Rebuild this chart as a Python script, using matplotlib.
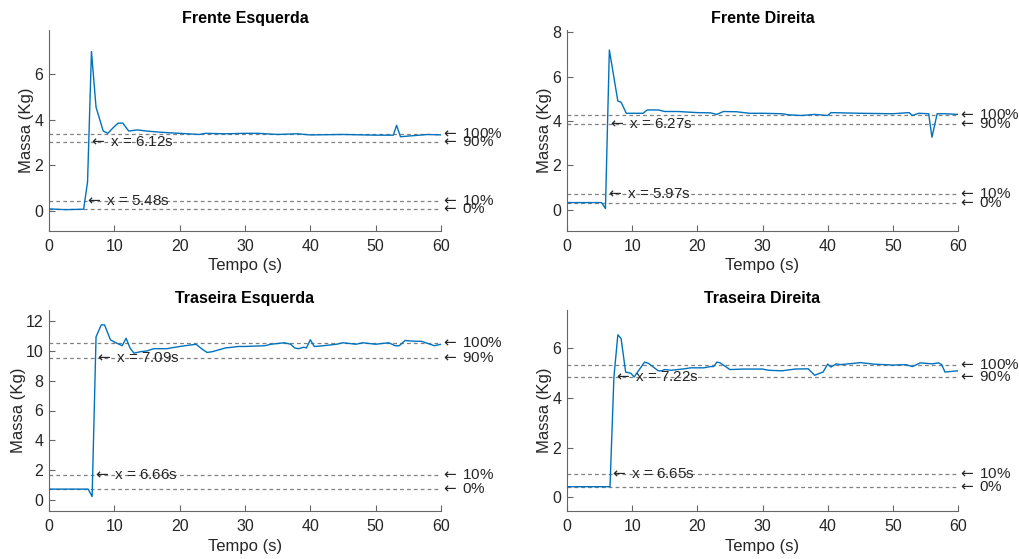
import matplotlib
matplotlib.use("Agg")
import matplotlib.pyplot as plt

plt.rcParams['font.family'] = ['Liberation Sans', 'DejaVu Sans']
plt.rcParams['mathtext.fontset'] = 'dejavusans'

titles = ["Frente Esquerda", "Frente Direita", "Traseira Esquerda", "Traseira Direita"]

# Frente Esquerda
t_fe = [0, 1, 2.5, 4, 5.3, 5.9, 6.5, 7.2, 8.3, 9.0, 10.0, 10.6, 11.3, 12.2, 13.5, 15, 17, 20, 23, 24,
        27, 30, 32, 35, 38, 40, 45, 50, 52.7, 53.2, 53.8, 55, 58, 60]
m_fe = [0.07, 0.06, 0.04, 0.05, 0.06, 1.26, 7.0, 4.55, 3.5, 3.4, 3.7, 3.85, 3.85, 3.5, 3.55, 3.5, 3.45, 3.4,
        3.35, 3.4, 3.38, 3.4, 3.4, 3.35, 3.38, 3.33, 3.35, 3.32, 3.32, 3.75, 3.25, 3.28, 3.35, 3.33]

# Frente Direita
t_fd = [0, 2, 4, 5.3, 5.9, 6.5, 7.8, 8.3, 9.1, 10, 11.7, 12.3, 14, 15, 17, 20, 22, 23, 24, 26, 28, 30,
        33, 34, 36, 38, 40, 40.5, 45, 50, 52.5, 53, 54, 55.5, 56.0, 56.8, 58, 60]
m_fd = [0.33, 0.33, 0.33, 0.33, 0.06, 7.2, 4.9, 4.85, 4.35, 4.35, 4.35, 4.5, 4.5, 4.43, 4.43, 4.38, 4.37,
        4.3, 4.43, 4.42, 4.35, 4.35, 4.33, 4.28, 4.25, 4.3, 4.25, 4.38, 4.35, 4.33, 4.38, 4.25, 4.35, 4.33,
        3.27, 4.33, 4.33, 4.3]

# Traseira Esquerda
t_te = [0, 2, 4, 6.0, 6.6, 7.2, 8.0, 8.5, 9.4, 10, 11.2, 11.8, 12.4, 13, 14, 15, 16, 18, 20, 22.5, 23.5,
        24.2, 25, 27, 29, 30, 33, 34, 36, 37, 37.6, 38.2, 39, 39.4, 40, 40.6, 42, 44, 45, 47, 48, 50, 52,
        53, 53.6, 54.5, 56, 57, 59, 60]
m_te = [0.72, 0.72, 0.72, 0.72, 0.22, 10.95, 11.75, 11.75, 10.75, 10.6, 10.35, 10.85, 10.2, 9.85, 9.95,
        10.0, 10.15, 10.15, 10.3, 10.45, 10.1, 9.9, 9.95, 10.2, 10.3, 10.3, 10.35, 10.45, 10.55, 10.45, 10.2,
        10.15, 10.25, 10.2, 10.75, 10.3, 10.35, 10.45, 10.55, 10.45, 10.55, 10.45, 10.55, 10.35, 10.35,
        10.7, 10.65, 10.65, 10.35, 10.45]

# Traseira Direita
t_td = [0, 2, 4, 6.6, 7.2, 7.8, 8.3, 9.0, 9.8, 10.3, 11.9, 12.5, 14, 14.5, 15, 16, 18, 19, 21, 22, 22.5,
        23, 23.5, 25, 27, 30, 31, 33, 35, 37, 38, 39.3, 40, 40.5, 41.3, 42, 44, 45, 47, 50, 52, 53, 54.2,
        56, 57, 57.5, 58, 60]
m_td = [0.43, 0.43, 0.43, 0.43, 4.85, 6.55, 6.4, 5.05, 5.0, 4.85, 5.45, 5.4, 5.1, 5.1, 5.15, 5.12, 5.18,
        5.22, 5.22, 5.27, 5.27, 5.45, 5.42, 5.15, 5.17, 5.17, 5.12, 5.1, 5.17, 5.18, 4.92, 5.05, 5.37, 5.25,
        5.38, 5.35, 5.4, 5.43, 5.37, 5.33, 5.35, 5.27, 5.42, 5.38, 5.42, 5.35, 5.05, 5.1]

# reference levels (0%, 10%, 90%, 100%)
levels_fe = [0.09, 0.42, 3.04, 3.35]
levels_fd = [0.33, 0.70, 3.88, 4.27]
levels_te = [0.72, 1.70, 9.53, 10.54]
levels_td = [0.43, 0.93, 4.83, 5.33]
level_labels = ["0%", "10%", "90%", "100%"]

# crossing times (10%, 90%)
cross_fe = [5.48, 6.12]
cross_fd = [5.97, 6.27]
cross_te = [6.66, 7.09]
cross_td = [6.65, 7.22]

ylims = [(-0.9, 7.95), (-0.95, 8.1), (-0.75, 12.75), (-0.55, 7.55)]
yticks = [[0, 2, 4, 6], [0, 2, 4, 6, 8], [0, 2, 4, 6, 8, 10, 12], [0, 2, 4, 6]]

series = [(t_fe, m_fe, levels_fe, cross_fe), (t_fd, m_fd, levels_fd, cross_fd),
          (t_te, m_te, levels_te, cross_te), (t_td, m_td, levels_td, cross_td)]

fig = plt.figure(figsize=(10.2, 5.59), dpi=100)
W, H = 1020, 559
positions = [(49, 30, 441, 231), (567, 30, 958, 231), (49, 310, 441, 511), (567, 310, 958, 511)]

axis_col = '#666666'
text_col = '#262626'
arrow = r'$\leftarrow\,$'

for i, (t, m, lv, cr) in enumerate(series):
    x0, y0, x1, y1 = positions[i]
    ax = fig.add_axes([x0 / W, 1 - y1 / H, (x1 - x0) / W, (y1 - y0) / H])
    ax.plot(t, m, color='#0072BD', lw=1.0, zorder=3)
    for v, lab in zip(lv, level_labels):
        ax.plot([0, 60], [v, v], color='#808080', lw=0.9, ls=(0, (3, 2.5)), zorder=2)
        ax.text(60, v, arrow + lab, ha='left', va='center', fontsize=11,
                color=text_col, zorder=4, clip_on=False)
    for c, v in zip(cr, [lv[1], lv[2]]):
        ax.text(c, v, arrow + 'x = %.2fs' % c, ha='left', va='center', fontsize=11,
                color=text_col, zorder=4)
    ax.set_xlim(0, 60)
    ax.set_ylim(*ylims[i])
    ax.set_xticks([0, 10, 20, 30, 40, 50, 60])
    ax.set_yticks(yticks[i])
    ax.set_title(titles[i], fontsize=11.5, fontweight='bold', color='black', pad=5)
    ax.set_xlabel('Tempo (s)', fontsize=12, color=text_col, labelpad=3)
    ax.set_ylabel('Massa (Kg)', fontsize=12, color=text_col, labelpad=0)
    for s in ['top', 'right']:
        ax.spines[s].set_visible(False)
    for s in ['left', 'bottom']:
        ax.spines[s].set_color(axis_col)
        ax.spines[s].set_linewidth(0.8)
    ax.tick_params(direction='in', length=4, width=0.8, color=axis_col,
                   labelsize=11.5, labelcolor=text_col)
    ax.tick_params(axis='x', pad=6)
    ax.tick_params(axis='y', pad=4)

fig.savefig('out.png', dpi=100)
